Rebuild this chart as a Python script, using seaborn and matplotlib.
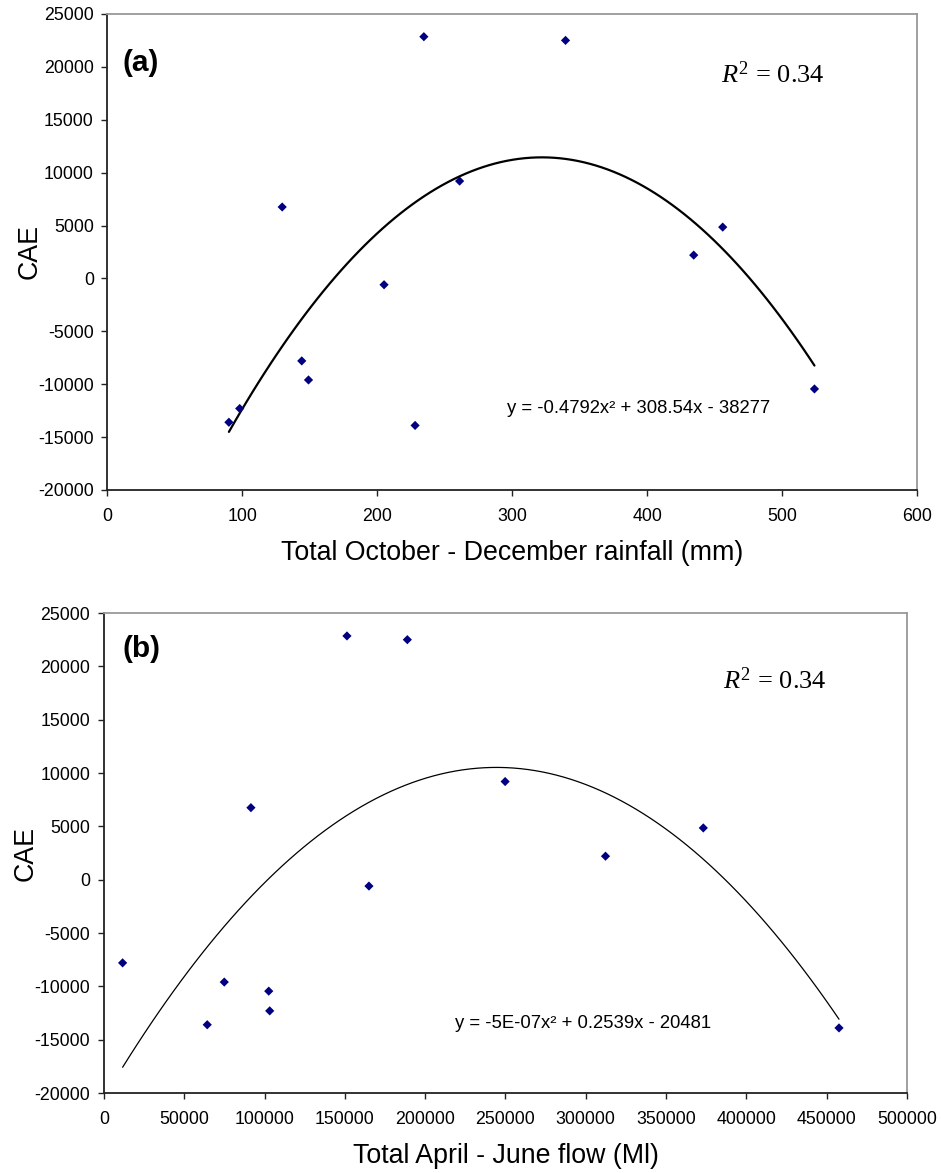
import numpy as np
import pandas as pd
import matplotlib
matplotlib.use("Agg")
import matplotlib.pyplot as plt
import seaborn as sns

# data (same years in both panels)
cae = [-13600, -12300, 6750, -7800, -9600, -600, -13900, 22850, 9200, 22500, 2200, 4850, -10450]
rainfall = [90, 98, 129.5, 144, 149, 205, 228, 234.5, 261, 339.5, 434.5, 456, 524]
flow = [64300, 103200, 91500, 11600, 74900, 165000, 457700, 151300, 249800, 188900, 312300, 373200, 102600]

df = pd.DataFrame({"CAE": cae, "rain": rainfall, "flow": flow})

sns.set_style("ticks")
plt.rcParams["font.family"] = ["Liberation Sans", "DejaVu Sans"]
plt.rcParams["axes.unicode_minus"] = False
plt.rcParams["text.color"] = "black"
plt.rcParams["axes.labelcolor"] = "black"
plt.rcParams["xtick.color"] = "black"
plt.rcParams["ytick.color"] = "black"
plt.rcParams["mathtext.fontset"] = "custom"
plt.rcParams["mathtext.rm"] = "Liberation Serif"
plt.rcParams["mathtext.it"] = "Liberation Serif:italic"

fig = plt.figure(figsize=(9.41, 11.73), dpi=100)
ax1 = fig.add_axes([0.1142, 0.5823, 0.8603, 0.4058])
ax2 = fig.add_axes([0.1105, 0.0682, 0.8533, 0.4092])

navy = "#000080"


def style_axes(ax):
    for s in ["left", "bottom"]:
        ax.spines[s].set_color("#222222")
        ax.spines[s].set_linewidth(1.3)
    for s in ["top", "right"]:
        ax.spines[s].set_color("#999999")
        ax.spines[s].set_linewidth(1.3)
    ax.tick_params(axis="both", direction="out", length=4, width=1.0,
                   color="#222222", labelsize=12.8)
    ax.tick_params(axis="x", pad=9)
    ax.tick_params(axis="y", pad=5.8)
    ax.set_ylim(-20000, 25000)
    ax.set_yticks(np.arange(-20000, 25001, 5000))


# panel (a)
sns.regplot(data=df, x="rain", y="CAE", order=2, ci=None, scatter=False,
            color="black", line_kws={"linewidth": 1.6}, ax=ax1)
sns.scatterplot(data=df, x="rain", y="CAE", marker="D", s=22, color=navy,
                edgecolor="none", ax=ax1, zorder=3)
ax1.set_xlim(0, 600)
ax1.set_xticks(np.arange(0, 601, 100))
style_axes(ax1)
ax1.set_xlabel("Total October - December rainfall (mm)", fontsize=19.3, labelpad=10.8)
ax1.set_ylabel("CAE", fontsize=19.3, labelpad=-3.5)
ax1.text(11.5, 20400, "(a)", fontsize=21.5, fontweight="bold", va="center")
ax1.text(455, 18500, "$R^2$ = 0.34", fontsize=19, family="Liberation Serif",
         math_fontfamily="custom", va="baseline")
ax1.text(296, -12700, "y = -0.4792x² + 308.54x - 38277", fontsize=13.3,
         va="baseline")

# panel (b)
sns.regplot(data=df, x="flow", y="CAE", order=2, ci=None, scatter=False,
            color="black", line_kws={"linewidth": 0.9}, ax=ax2)
sns.scatterplot(data=df, x="flow", y="CAE", marker="D", s=22, color=navy,
                edgecolor="none", ax=ax2, zorder=3)
ax2.set_xlim(0, 500000)
ax2.set_xticks(np.arange(0, 500001, 50000))
ax2.ticklabel_format(axis="x", style="plain")
style_axes(ax2)
ax2.set_xlabel("Total April - June flow (Ml)", fontsize=19.3, labelpad=10.8)
ax2.set_ylabel("CAE", fontsize=19.3, labelpad=-3)
ax2.text(11830, 21600, "(b)", fontsize=21.5, fontweight="bold", va="center")
ax2.text(385400, 17900, "$R^2$ = 0.34", fontsize=19, family="Liberation Serif",
         math_fontfamily="custom", va="baseline")
ax2.text(218600, -13900, "y = -5E-07x² + 0.2539x - 20481", fontsize=13.3,
         va="baseline")

fig.savefig("out.png", dpi=100)
